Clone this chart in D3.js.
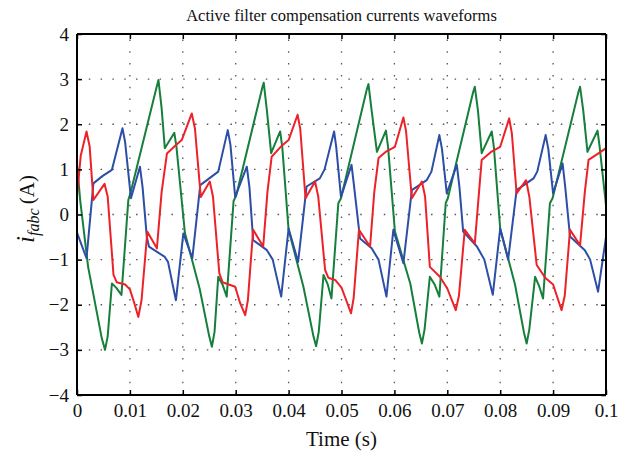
<!DOCTYPE html>
<html><head><meta charset="utf-8">
<script src="https://cdn.jsdelivr.net/npm/d3@7"></script>
<style>body{margin:0;background:#fff}svg{display:block}</style>
</head><body>
<svg id="chart" width="626" height="456"></svg>
<script>
const titleText = "Active filter compensation currents waveforms";
const xLabelText = "Time (s)";
const xTickValues = [0, 0.01, 0.02, 0.03, 0.04, 0.05, 0.06, 0.07, 0.08, 0.09, 0.1];
const xTickLabels = ["0", "0.01", "0.02", "0.03", "0.04", "0.05", "0.06", "0.07", "0.08", "0.09", "0.1"];
const yTickValues = [-4, -3, -2, -1, 0, 1, 2, 3, 4];
const yTickLabels = ["\u22124", "\u22123", "\u22122", "\u22121", "0", "1", "2", "3", "4"];

// green phase
const greenT = [0, 0.0006, 0.0021, 0.0047, 0.0053, 0.0058, 0.0066, 0.0074, 0.0084, 0.0097, 0.0101, 0.0151, 0.0154, 0.0160, 0.0166, 0.0184, 0.0188, 0.0204, 0.0232, 0.0250, 0.0255, 0.0260, 0.0267, 0.0275, 0.0283, 0.0296, 0.0301, 0.0350, 0.0353, 0.0359, 0.0367, 0.0384, 0.0388, 0.0400, 0.0428, 0.0447, 0.0452, 0.0457, 0.0466, 0.0474, 0.0481, 0.0494, 0.0499, 0.0548, 0.0551, 0.0557, 0.0567, 0.0584, 0.0588, 0.0601, 0.0630, 0.0647, 0.0652, 0.0657, 0.0667, 0.0676, 0.0685, 0.0697, 0.0701, 0.0749, 0.0752, 0.0758, 0.0765, 0.0784, 0.0788, 0.0800, 0.0828, 0.0845, 0.0850, 0.0855, 0.0866, 0.0874, 0.0881, 0.0894, 0.0899, 0.0948, 0.0951, 0.0957, 0.0965, 0.0984, 0.0988, 0.1];
const greenI = [1.12, 0.32, -1.16, -2.75, -3.0, -2.7, -1.53, -1.62, -1.78, 0.32, 0.47, 2.85, 2.98, 2.35, 1.47, 1.81, 1.5, -0.41, -1.65, -2.7, -2.93, -2.6, -1.38, -1.55, -1.82, 0.3, 0.42, 2.8, 2.92, 2.3, 1.36, 1.84, 1.5, -0.34, -1.6, -2.7, -2.92, -2.6, -1.34, -1.55, -1.86, 0.25, 0.36, 2.78, 2.89, 2.3, 1.39, 1.86, 1.5, -0.38, -1.53, -2.62, -2.86, -2.55, -1.38, -1.55, -1.82, 0.25, 0.36, 2.72, 2.83, 2.3, 1.36, 1.84, 1.5, -0.31, -1.55, -2.62, -2.86, -2.55, -1.38, -1.6, -1.86, 0.25, 0.36, 2.72, 2.83, 2.3, 1.39, 1.86, 1.5, 0.2];

// blue phase
const blueT = [0, 0.0018, 0.0031, 0.0048, 0.0066, 0.0086, 0.0091, 0.0102, 0.0119, 0.0124, 0.0132, 0.0136, 0.0166, 0.0172, 0.0187, 0.0201, 0.0218, 0.0233, 0.0250, 0.0267, 0.0285, 0.0290, 0.0299, 0.0321, 0.0326, 0.0333, 0.0359, 0.0370, 0.0386, 0.0400, 0.0418, 0.0434, 0.0459, 0.0468, 0.0486, 0.0490, 0.0499, 0.0519, 0.0524, 0.0535, 0.0557, 0.0570, 0.0585, 0.0598, 0.0617, 0.0633, 0.0661, 0.0670, 0.0685, 0.0690, 0.0699, 0.0718, 0.0723, 0.0730, 0.0756, 0.0770, 0.0786, 0.0800, 0.0815, 0.0831, 0.0863, 0.0870, 0.0886, 0.0891, 0.0900, 0.0918, 0.0923, 0.0932, 0.0960, 0.0970, 0.0985, 0.1];
const blueI = [-0.4, -0.97, 0.69, 0.85, 0.99, 1.91, 1.6, 0.36, 1.06, 0.6, -0.5, -0.71, -0.94, -1.05, -1.9, -0.42, -0.97, 0.65, 0.8, 0.95, 1.87, 1.55, 0.39, 1.06, 0.6, -0.57, -0.79, -1.0, -1.82, -0.31, -1.05, 0.62, 0.8, 1.0, 1.84, 1.5, 0.39, 1.1, 0.6, -0.53, -0.75, -1.0, -1.82, -0.34, -1.08, 0.54, 0.76, 0.95, 1.76, 1.45, 0.47, 1.1, 0.6, -0.38, -0.71, -1.0, -1.78, -0.31, -1.0, 0.54, 0.8, 0.95, 1.76, 1.45, 0.47, 1.13, 0.6, -0.49, -0.79, -1.0, -1.71, -0.5];

// red phase
const redT = [0, 0.0007, 0.0018, 0.0024, 0.0031, 0.0052, 0.0058, 0.0069, 0.0075, 0.0091, 0.0100, 0.0108, 0.0116, 0.0122, 0.0133, 0.0151, 0.0160, 0.0170, 0.0185, 0.0198, 0.0217, 0.0223, 0.0234, 0.0251, 0.0257, 0.0269, 0.0275, 0.0299, 0.0308, 0.0318, 0.0323, 0.0333, 0.0352, 0.0360, 0.0368, 0.0385, 0.0400, 0.0417, 0.0422, 0.0432, 0.0450, 0.0456, 0.0469, 0.0475, 0.0488, 0.0500, 0.0509, 0.0518, 0.0523, 0.0533, 0.0554, 0.0562, 0.0570, 0.0585, 0.0601, 0.0617, 0.0622, 0.0633, 0.0652, 0.0658, 0.0667, 0.0686, 0.0700, 0.0716, 0.0722, 0.0733, 0.0752, 0.0760, 0.0765, 0.0782, 0.0800, 0.0817, 0.0822, 0.0831, 0.0849, 0.0855, 0.0869, 0.0885, 0.0900, 0.0916, 0.0922, 0.0932, 0.0951, 0.0960, 0.0967, 0.0985, 0.1];
const redI = [0.4, 1.3, 1.84, 1.5, 0.32, 0.68, 0.4, -1.34, -1.5, -1.55, -1.66, -1.95, -2.27, -1.9, -0.38, -0.75, 0.5, 1.35, 1.52, 1.65, 2.24, 1.9, 0.39, 0.73, 0.4, -1.3, -1.5, -1.6, -1.95, -2.23, -1.9, -0.34, -0.71, 0.5, 1.28, 1.5, 1.65, 2.21, 1.9, 0.36, 0.73, 0.4, -1.23, -1.4, -1.45, -1.62, -1.9, -2.19, -1.85, -0.34, -0.71, 0.5, 1.25, 1.4, 1.5, 2.15, 1.85, 0.36, 0.73, 0.4, -1.16, -1.38, -1.64, -2.12, -1.8, -0.34, -0.64, 0.5, 1.21, 1.38, 1.5, 2.13, 1.8, 0.47, 0.76, 0.4, -1.12, -1.4, -1.55, -2.12, -1.8, -0.34, -0.68, 0.5, 1.21, 1.35, 1.47];

const seriesList = [
  {name: "green", t: greenT, v: greenI, color: "#157f3b"},
  {name: "blue", t: blueT, v: blueI, color: "#2c4ea6"},
  {name: "red", t: redT, v: redI, color: "#ec2228"}
];

const svg = d3.select("#chart");
const L = 77, R = 606, T = 34, B = 395;
const x = d3.scaleLinear().domain([0, 0.1]).range([L, R]);
const y = d3.scaleLinear().domain([-4, 4]).range([B, T]);
const font = "Liberation Serif, Times New Roman, serif";

svg.append("rect").attr("width", 626).attr("height", 456).attr("fill", "#fff");

// grid
const grid = svg.append("g");
xTickValues.slice(1, -1).forEach(v => {
  grid.append("line").attr("x1", x(v)).attr("x2", x(v)).attr("y1", B).attr("y2", T)
    .attr("stroke", "#555").attr("stroke-width", 1.3).attr("stroke-dasharray", "1.5,10.3");
});
yTickValues.slice(1, -1).forEach(v => {
  grid.append("line").attr("x1", L).attr("x2", R).attr("y1", y(v)).attr("y2", y(v))
    .attr("stroke", "#555").attr("stroke-width", 1.3).attr("stroke-dasharray", "1.5,10.3");
});

// lines
svg.append("clipPath").attr("id", "clip").append("rect")
  .attr("x", L).attr("y", T).attr("width", R - L).attr("height", B - T);
const lineGen = d3.line().x(d => x(d[0])).y(d => y(d[1]));
seriesList.forEach(s => {
  const pts = s.t.map((t, i) => [t, s.v[i]]);
  svg.append("path").datum(pts).attr("d", lineGen).attr("fill", "none")
    .attr("stroke", s.color).attr("stroke-width", 2).attr("stroke-linejoin", "round")
    .attr("clip-path", "url(#clip)");
});

// axes
const tickLen = 5;
const axB = svg.append("g").attr("transform", `translate(0,${B})`)
  .call(d3.axisBottom(x).tickValues(xTickValues).tickSize(-tickLen).tickPadding(9)
    .tickFormat((d, i) => xTickLabels[i]));
const axT = svg.append("g").attr("transform", `translate(0,${T})`)
  .call(d3.axisTop(x).tickValues(xTickValues).tickSize(-tickLen).tickFormat(""));
const axL = svg.append("g").attr("transform", `translate(${L},0)`)
  .call(d3.axisLeft(y).tickValues(yTickValues).tickSize(-tickLen).tickPadding(8)
    .tickFormat((d, i) => yTickLabels[i]));
const axR = svg.append("g").attr("transform", `translate(${R},0)`)
  .call(d3.axisRight(y).tickValues(yTickValues).tickSize(-tickLen).tickFormat(""));
[axB, axT, axL, axR].forEach(a => {
  a.attr("font-family", font).attr("font-size", 19);
  a.select(".domain").attr("stroke", "#000").attr("stroke-width", 2);
  a.selectAll(".tick line").attr("stroke", "#000").attr("stroke-width", 1.5);
  a.selectAll("text").style("font-family", font).style("font-size", "19px").attr("fill", "#111");
});
axB.selectAll(".domain").attr("d", `M${L},0H${R}`);
axT.selectAll(".domain").attr("d", `M${L},0H${R}`);
axL.selectAll(".domain").attr("d", `M0,${B}V${T}`);
axR.selectAll(".domain").attr("d", `M0,${B}V${T}`);

// title
svg.append("text").attr("x", (L + R) / 2).attr("y", 21).attr("text-anchor", "middle")
  .style("font-family", font).style("font-size", "16.5px").attr("fill", "#111").text(titleText);

// x label
svg.append("text").attr("x", (L + R) / 2).attr("y", 446).attr("text-anchor", "middle")
  .style("font-family", font).style("font-size", "21px").attr("fill", "#111").text(xLabelText);

// y label
const yl = svg.append("text").attr("transform", "translate(34,209) rotate(-90)")
  .attr("text-anchor", "middle").style("font-family", font).style("font-size", "21px").attr("fill", "#111");
yl.append("tspan").attr("font-style", "italic").style("font-size", "25px").text("i");
yl.append("tspan").attr("font-style", "italic").style("font-size", "16px").attr("dy", 5).text("fabc");
yl.append("tspan").attr("dy", -5).text("\u2009(A)");
</script>
</body></html>
